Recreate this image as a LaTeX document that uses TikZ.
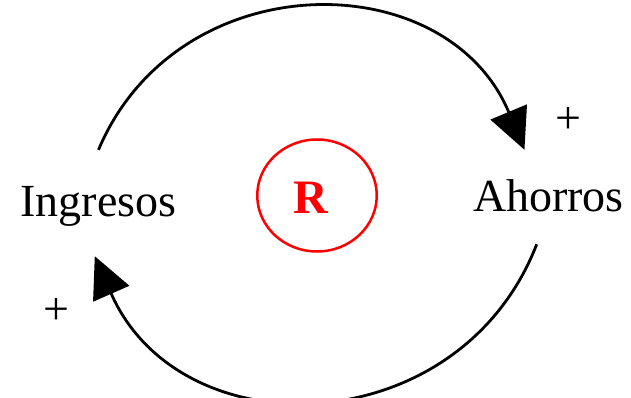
\documentclass[tikz,border=0pt]{standalone}
\usepackage{fontspec}
\setmainfont{Liberation Serif}
\usepackage{tikz}
\usetikzlibrary{arrows.meta,shapes.geometric}
\definecolor{loopred}{HTML}{FF0000}
\definecolor{inkblack}{HTML}{000000}
\tikzset{
  var/.style={inner sep=0pt, anchor=base, text=inkblack, font=\fontsize{46}{50}\selectfont},
  link/.style={draw=inkblack, line width=2.8pt, -{Triangle[length=41pt,width=39pt]}},
  polarity/.style={inner sep=0pt, text=inkblack, font=\fontsize{46}{50}\selectfont},
  loopmark/.style={ellipse, draw=loopred, line width=2.5pt, minimum width=119.5pt, minimum height=112pt, inner sep=0pt},
  looptype/.style={inner sep=0pt, text=loopred, font=\fontsize{48}{52}\selectfont\bfseries}
}

\begin{document}
\begin{tikzpicture}[x=1pt,y=-1pt]
            \useasboundingbox (0,0) rectangle (631,398);
            \node[var, text height=66.7pt, text depth=39.3pt] (ingresos) at (98.5,216.7) {Ingresos};
            \node[var, text height=61.7pt, text depth=32.3pt] (ahorros) at (548.5,211.7) {Ahorros};
            \node[loopmark] (loop) at (317,195.5) {};
            \node[looptype] (looptag) at (310.5,197.3) {R};
            \draw[link] (ingresos.north) .. controls +(79,-187) and +(-78,-187) .. (ahorros.117);
            \draw[link] (ahorros.256) .. controls +(-77,199) and +(86,196) .. (ingresos.266);
            \node[polarity] (pos1) at (568,121) {+};
            \node[polarity] (pos2) at (56,312) {+};
        \end{tikzpicture}
\end{document}
